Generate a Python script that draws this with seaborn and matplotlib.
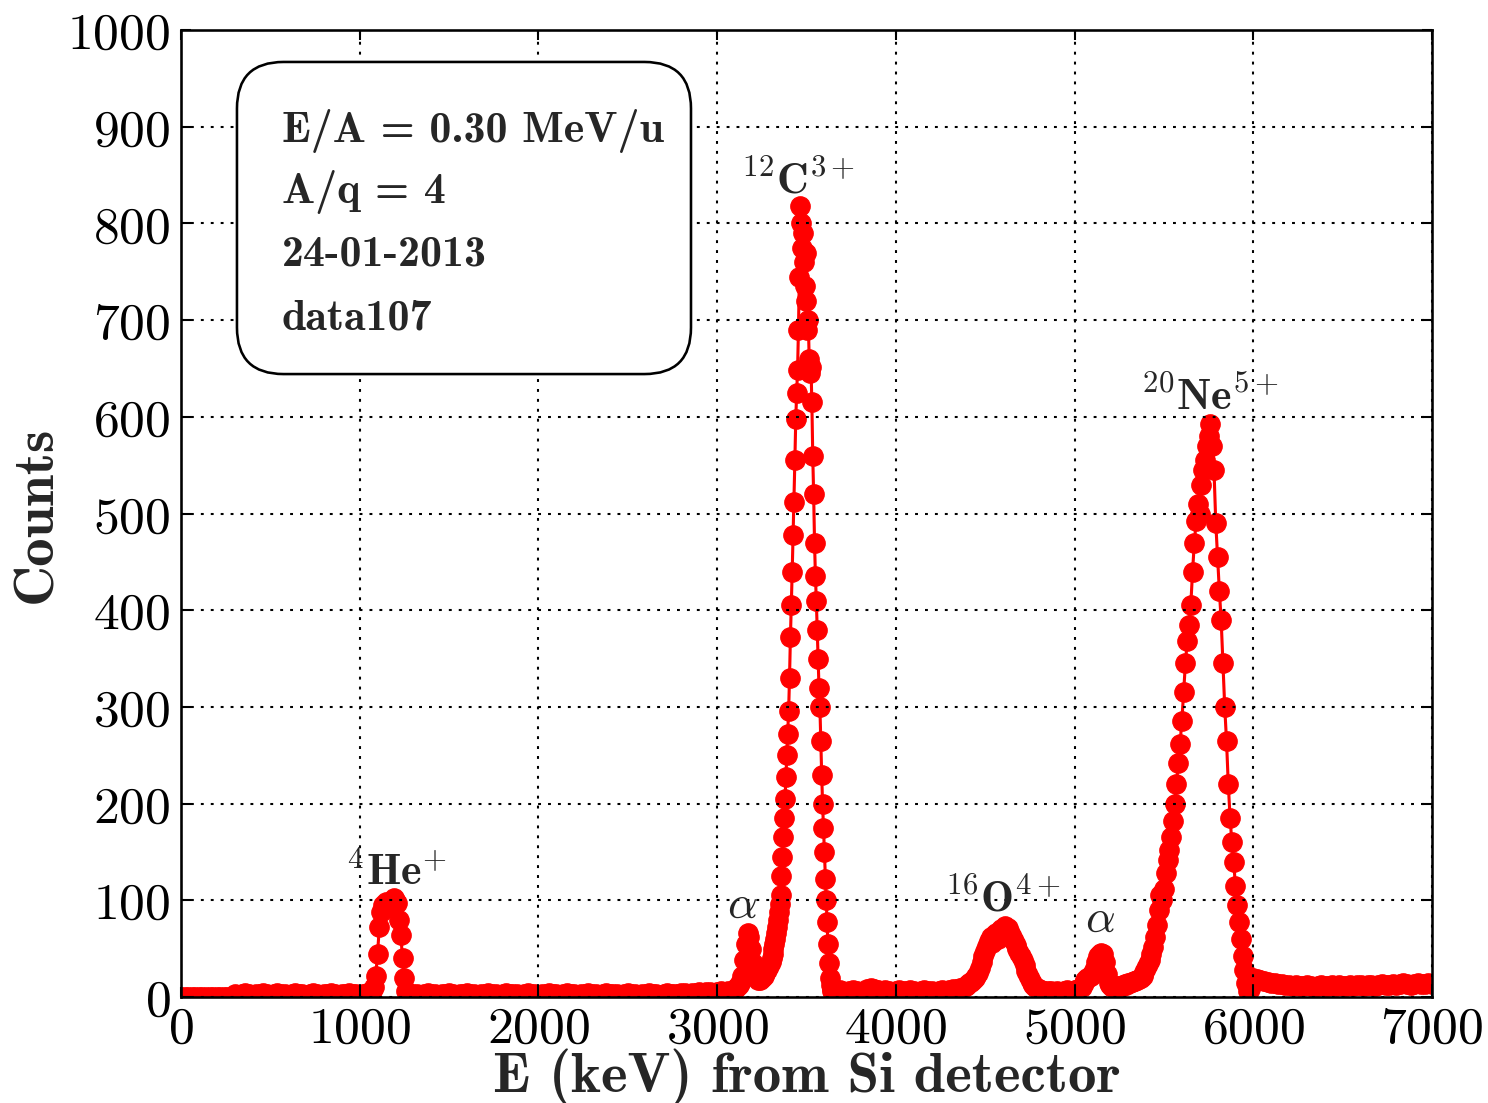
import numpy as np
import pandas as pd
import seaborn as sns
import matplotlib.pyplot as plt
from matplotlib.patches import FancyBboxPatch

# spectrum, one list per energy region
# (start keV, step keV, counts)
base_low = [0, 0, 0, 0, 0, 0, 0, 0, 0, 0, 0, 0, 0, 0, 0,
            3, 2, 3, 4, 3, 2, 3, 3, 4, 3, 2, 3, 4, 3, 3, 2, 3, 4, 3, 3,
            2, 3, 4, 3, 2, 3, 3, 4, 3, 2, 3, 3, 4, 3, 3, 2, 3, 4]
he_peak = [3, 4, 6, 10, 22, 45, 72, 88, 95, 92, 98, 96, 94, 99, 102, 100,
           97, 80, 64, 40, 20, 6, 3, 3]
base_mid = [3, 3, 2, 3, 4, 3, 3, 2, 3, 3, 4, 3, 2, 3, 3, 4, 3, 3, 2, 3,
            3, 4, 3, 3, 2, 3, 4, 3, 3, 3, 2, 3, 4, 3, 3, 2, 3, 3, 4, 3,
            3, 2, 3, 4, 3, 3, 2, 3, 3, 4, 3, 3, 2, 3, 4, 3, 3, 3, 2, 3,
            4, 3, 3, 2, 3, 3, 4, 3, 3, 2, 3, 4, 3, 3, 3, 4, 4, 3, 4, 4,
            5, 4, 5, 5, 4, 5, 6, 5, 6]
alpha1 = [5, 6, 8, 10, 12, 15, 22, 38, 55, 66, 62, 50, 35, 25, 22, 18,
          18, 20, 22, 25, 28, 32]
c_peak = [36, 40, 44, 50, 55, 60, 66, 72, 80, 88,
          96, 106, 125, 145, 165, 185, 205, 228, 250, 272,
          296, 330, 372, 405, 440, 478, 512, 555, 598, 625,
          648, 690, 745, 818, 800, 775, 790, 760, 735, 770,
          720, 690, 700, 660, 645, 652, 615, 560, 520, 470,
          435, 410, 380, 350, 320, 300, 265, 230, 200, 175,
          150, 122, 100, 78, 55, 35, 20, 12, 8, 6,
          5, 5, 6, 5, 6, 5, 6, 7, 6, 5]
base_c_o = [6, 5, 6, 7, 6, 5, 6, 8, 9, 8, 7, 6, 7, 6, 5, 6, 7, 6, 6, 7,
            6, 5, 6, 7, 6, 6, 5, 6, 7, 6, 7, 8, 8, 9]
o_peak = [10, 11, 12, 14, 16, 18, 20, 22, 25, 30,
          36, 42, 48, 53, 58, 62, 56, 64, 66, 60,
          68, 70, 64, 73, 70, 71, 66, 62, 58, 54,
          50, 46, 42, 38, 33, 27, 23, 19, 15, 12,
          10, 9, 8, 7, 6, 6, 5, 6, 5, 6, 5]
base_o_a = [6, 5, 6, 7, 6, 7, 8]
alpha2 = [10, 14, 18, 20, 21, 22, 24, 28, 36, 42, 45, 46, 44, 36, 24, 15,
          12, 10, 10, 11]
ne_peak = [10, 11, 10, 12, 13, 12, 14, 15, 16, 17,
           17, 18, 19, 20, 22, 26, 30, 34, 38, 44,
           52, 62, 75, 90, 105, 100, 112, 128, 142, 152,
           165, 182, 200, 220, 242, 262, 285, 315, 345, 368,
           385, 405, 440, 470, 492, 510, 500, 530, 545, 555,
           570, 580, 593, 570, 545, 490, 455, 420, 390, 345,
           300, 265, 220, 185, 160, 140, 115, 95, 78, 60,
           42, 28, 14, 6, 8, 14, 20]
base_high = [19, 18, 17, 16, 15, 14, 13, 13, 12, 12,
             11, 12, 11, 11, 12, 11, 10, 11, 12, 11,
             11, 12, 11, 12, 11, 11, 12, 11, 12, 12,
             11, 12, 12, 11, 12, 13, 12, 12, 13, 12,
             13, 14, 13, 12, 13, 14, 13, 13, 14, 13]

segments = [(0, 20, base_low), (1050, 10, he_peak), (1300, 20, base_mid),
            (3080, 10, alpha1), (3300, 5, c_peak), (3700, 20, base_c_o),
            (4380, 10, o_peak), (4900, 20, base_o_a), (5040, 10, alpha2),
            (5240, 10, ne_peak), (6020, 20, base_high)]

info_lines = ['E/A = 0.30 MeV/u', 'A/q = 4', '24-01-2013', 'data107']

energy = np.concatenate([s + d * np.arange(len(c)) for s, d, c in segments])
counts = np.concatenate([np.array(c, dtype=float) for s, d, c in segments])
df = pd.DataFrame({'energy': energy, 'counts': counts})

sns.set_style('ticks')
plt.rcParams.update({
    'font.family': 'cmr10',
    'mathtext.fontset': 'cm',
    'axes.formatter.use_mathtext': True,
    'axes.edgecolor': 'black',
    'axes.linewidth': 1.0,
    'xtick.direction': 'in',
    'ytick.direction': 'in',
    'xtick.top': True,
    'ytick.right': True,
    'xtick.major.size': 4,
    'ytick.major.size': 4,
    'xtick.major.pad': 3.5,
    'ytick.major.pad': 4,
    'xtick.color': 'black',
    'ytick.color': 'black',
})

fig = plt.figure(figsize=(8, 5.935), dpi=186)
ax = fig.add_axes([0.1216, 0.096, 0.8408, 0.8759])

sns.lineplot(data=df, x='energy', y='counts', ax=ax, color='red',
             marker='o', markersize=7.5, markeredgecolor='red',
             markeredgewidth=0.5, linewidth=1.2, estimator=None, sort=False)

ax.set_xlim(0, 7000)
ax.set_ylim(0, 1000)
ax.set_xticks(range(0, 7001, 1000))
ax.set_yticks(range(0, 1001, 100))
ax.tick_params(labelsize=20)
ax.grid(True, color='black', linestyle=(0, (1.4, 3.4)), linewidth=0.8)
ax.set_axisbelow(False)

ax.set_xlabel('E (keV) from Si detector', fontsize=22, family='cmb10',
              labelpad=-1.5)
ax.set_ylabel('Counts', fontsize=22, family='cmb10', labelpad=2)

# peak labels
ax.text(1206, 117, r'$^{4}$He$^{+}$', ha='center', va='baseline',
        fontsize=17, family='cmb10')
ax.text(3452, 832, r'$^{12}$C$^{3+}$', ha='center', va='baseline',
        fontsize=17, family='cmb10')
ax.text(4597, 89, r'$^{16}$O$^{4+}$', ha='center', va='baseline',
        fontsize=17, family='cmb10')
ax.text(5755, 608, r'$^{20}$Ne$^{5+}$', ha='center', va='baseline',
        fontsize=17, family='cmb10')
ax.text(3139, 83, r'$\alpha$', ha='center', va='baseline', fontsize=18)
ax.text(5143, 68, r'$\alpha$', ha='center', va='baseline', fontsize=18)

# rounded info box (inches, so the corners stay round)
box = FancyBboxPatch((1.274, 3.919), 2.441, 1.678,
                     boxstyle='round,pad=0,rounding_size=0.25',
                     transform=fig.dpi_scale_trans, facecolor='white',
                     edgecolor='black', linewidth=1.0, zorder=3,
                     clip_on=False)
ax.add_patch(box)
for line, yb in zip(info_lines, [0.8852, 0.8221, 0.7570, 0.6908]):
    ax.text(0.0807, yb, line, transform=ax.transAxes, ha='left',
            va='baseline', fontsize=17, family='cmb10', zorder=4)

sns.despine(ax=ax, top=False, right=False)
fig.savefig('out.png', dpi=186)
